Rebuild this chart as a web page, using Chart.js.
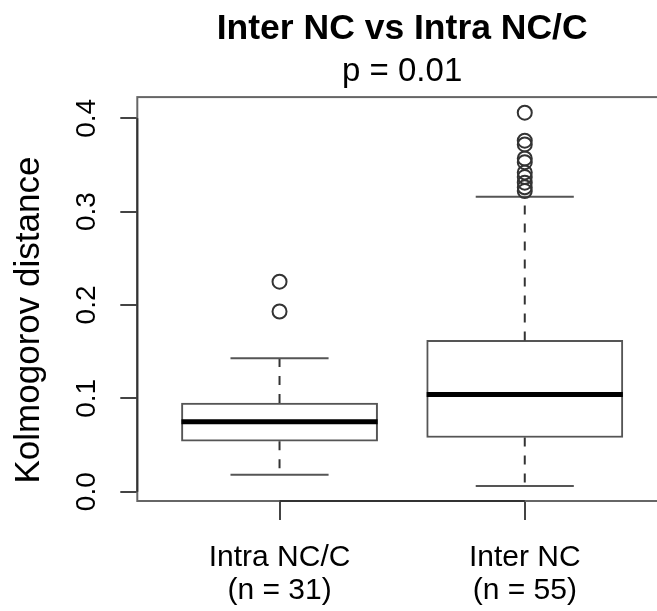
<!DOCTYPE html>
<html>
<head>
<meta charset="utf-8">
<script src="https://cdn.jsdelivr.net/npm/chart.js@4/dist/chart.umd.min.js"></script>
<style>
  html, body { margin: 0; padding: 0; background: #fff; overflow: hidden; }
  canvas { display: block; }
</style>
</head>
<body>
<canvas id="c" width="676" height="611"></canvas>
<script>
// ---- data ----
const categories = ['Intra NC/C', 'Inter NC'];
const sampleSizes = ['(n = 31)', '(n = 55)'];
const positions = [1, 2];
const q1 = [0.054, 0.058];
const median = [0.075, 0.104];
const q3 = [0.095, 0.162];
const whiskerLow = [0.018, 0.006];
const whiskerHigh = [0.143, 0.316];
const outliersIntra = [0.193, 0.225];
const outliersInter = [0.322, 0.326, 0.331, 0.337, 0.342, 0.353, 0.357, 0.372, 0.376, 0.406];
const yTicks = [0, 0.1, 0.2, 0.3, 0.4];
const yTickLabels = ['0.0', '0.1', '0.2', '0.3', '0.4'];
const titleText = 'Inter NC vs Intra NC/C';
const subtitleText = 'p = 0.01';
const yTitleText = 'Kolmogorov distance';

// ---- style constants ----
const BOX_HALF = 0.4;     // half box width (x units)
const CAP_HALF = 0.2;     // half staple width (x units)
const FONT = "'Liberation Sans', Arial, Helvetica, sans-serif";

// ---- derived datasets ----
const boxData = positions.map((p, i) => ({ x: p, y: [q1[i], q3[i]] }));
const medianData = [];
const capData = [];
const whiskerData = [];
positions.forEach((p, i) => {
  medianData.push({ x: p - BOX_HALF, y: median[i] }, { x: p + BOX_HALF, y: median[i] }, { x: p, y: null });
  capData.push({ x: p - CAP_HALF, y: whiskerHigh[i] }, { x: p + CAP_HALF, y: whiskerHigh[i] }, { x: p, y: null });
  capData.push({ x: p - CAP_HALF, y: whiskerLow[i] }, { x: p + CAP_HALF, y: whiskerLow[i] }, { x: p, y: null });
  whiskerData.push({ x: p, y: q3[i] }, { x: p, y: whiskerHigh[i] }, { x: p, y: null });
  whiskerData.push({ x: p, y: q1[i] }, { x: p, y: whiskerLow[i] }, { x: p, y: null });
});
const outlierData = [
  ...outliersIntra.map(v => ({ x: positions[0], y: v })),
  ...outliersInter.map(v => ({ x: positions[1], y: v }))
];

Chart.defaults.color = '#000';
Chart.defaults.font.family = FONT;

const framePlugin = {
  id: 'frame',
  beforeDatasetsDraw(chart) {
    const { ctx, chartArea: a, scales } = chart;
    ctx.save();
    ctx.strokeStyle = '#666';
    ctx.lineWidth = 2;
    ctx.strokeRect(a.left, a.top, a.right - a.left, a.bottom - a.top);
    ctx.strokeStyle = '#333';
    ctx.beginPath();
    ctx.moveTo(a.left, scales.y.getPixelForValue(yTicks[0]));
    ctx.lineTo(a.left, scales.y.getPixelForValue(yTicks[yTicks.length - 1]));
    ctx.moveTo(scales.x.getPixelForValue(positions[0]), a.bottom);
    ctx.lineTo(scales.x.getPixelForValue(positions[positions.length - 1]), a.bottom);
    ctx.stroke();
    ctx.restore();
  },
  afterDraw(chart) {
    const { ctx, chartArea: a, scales } = chart;
    ctx.save();
    ctx.fillStyle = '#000';
    ctx.font = '28px ' + FONT;
    ctx.textAlign = 'center';
    ctx.textBaseline = 'alphabetic';
    yTicks.forEach((v, i) => {
      const py = scales.y.getPixelForValue(v);
      ctx.save();
      ctx.translate(a.left - 42, py);
      ctx.rotate(-Math.PI / 2);
      ctx.fillText(yTickLabels[i], 0, 0);
      ctx.restore();
    });
    ctx.font = '35px ' + FONT;
    ctx.save();
    ctx.translate(39, (a.top + a.bottom) / 2 + 21);
    ctx.rotate(-Math.PI / 2);
    ctx.fillText(yTitleText, 0, 0);
    ctx.restore();
    ctx.restore();
  }
};

new Chart(document.getElementById('c'), {
  type: 'bar',
  data: {
    datasets: [
      {
        type: 'line', label: 'median', data: medianData,
        borderColor: '#000', borderWidth: 5, borderCapStyle: 'butt',
        pointRadius: 0, spanGaps: false, fill: false
      },
      {
        type: 'scatter', label: 'outliers', data: outlierData,
        pointStyle: 'circle', pointRadius: 7, pointBorderWidth: 2,
        pointBackgroundColor: 'rgba(255,255,255,0)', pointBorderColor: '#333',
        showLine: false
      },
      {
        type: 'line', label: 'caps', data: capData,
        borderColor: '#555', borderWidth: 2, pointRadius: 0, spanGaps: false, fill: false
      },
      {
        type: 'line', label: 'whiskers', data: whiskerData,
        borderColor: '#333', borderWidth: 2, borderDash: [9, 9],
        pointRadius: 0, spanGaps: false, fill: false
      },
      {
        type: 'bar', label: 'box', data: boxData,
        backgroundColor: '#fff', borderColor: '#555', borderWidth: 2,
        borderSkipped: false, grouped: false,
        barThickness: (ctx) => {
          const x = ctx.chart.scales.x;
          return x.getPixelForValue(1 + BOX_HALF) - x.getPixelForValue(1 - BOX_HALF);
        }
      }
    ]
  },
  options: {
    responsive: false,
    animation: false,
    events: [],
    layout: { padding: { left: 0, right: 2.6, top: 0, bottom: 0 } },
    plugins: {
      legend: { display: false },
      tooltip: { enabled: false },
      title: {
        display: true, text: titleText, fullSize: false,
        font: { size: 35.5, weight: 'bold', family: FONT, lineHeight: 1.2 },
        color: '#000', padding: { top: 8, bottom: 0 }
      },
      subtitle: {
        display: true, text: subtitleText, fullSize: false,
        font: { size: 33, weight: 'normal', family: FONT, lineHeight: 1.2 },
        color: '#000', padding: { top: 1.5, bottom: 5.4 }
      }
    },
    scales: {
      x: {
        type: 'linear', min: 0.42, max: 2.58, offset: false,
        afterBuildTicks: (s) => { s.ticks = positions.map(v => ({ value: v })); },
        afterFit: (s) => { s.height = 110; s.paddingLeft = 0; s.paddingRight = 0; },
        grid: { display: true, drawOnChartArea: false, drawTicks: true, tickLength: 19, color: '#444', lineWidth: 2, offset: false },
        border: { display: false },
        ticks: {
          autoSkip: false, maxRotation: 0, minRotation: 0, padding: 21,
          font: { size: 30, family: FONT, lineHeight: 1.1 }, color: '#000',
          callback: (value) => {
            const i = positions.indexOf(value);
            return i >= 0 ? [categories[i], sampleSizes[i]] : '';
          }
        }
      },
      y: {
        type: 'linear', min: -0.0100, max: 0.4227,
        afterBuildTicks: (s) => { s.ticks = yTicks.map(v => ({ value: v })); },
        afterFit: (s) => { s.width = 137.3; s.paddingTop = 0; s.paddingBottom = 0; },
        grid: { display: true, drawOnChartArea: false, drawTicks: true, tickLength: 17, color: '#444', lineWidth: 2 },
        border: { display: false },
        ticks: { display: false }
      }
    }
  },
  plugins: [framePlugin]
});
</script>
</body>
</html>
